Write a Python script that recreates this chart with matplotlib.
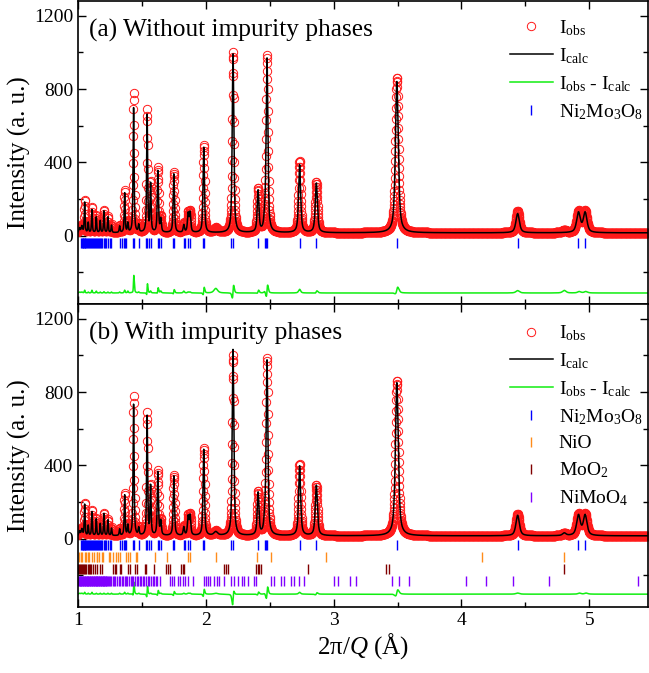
import numpy as np
import matplotlib
matplotlib.use("Agg")
import matplotlib.pyplot as plt
from matplotlib.ticker import MultipleLocator

plt.rcParams['font.family'] = ['Liberation Serif', 'DejaVu Serif']
plt.rcParams['mathtext.fontset'] = 'custom'
plt.rcParams['mathtext.rm'] = 'Liberation Serif'
plt.rcParams['mathtext.it'] = 'Liberation Serif:italic'
plt.rcParams['mathtext.bf'] = 'Liberation Serif:bold'

# ---------------- data ----------------
# Bragg peaks: position (2pi/Q, Angstrom), heights above background, widths
peak_pos = [1.012, 1.030, 1.052, 1.080, 1.109, 1.143, 1.174, 1.203, 1.234, 1.262,
            1.326, 1.365, 1.390, 1.435, 1.475, 1.541, 1.568, 1.625, 1.648, 1.750,
            1.828, 1.862, 1.877, 1.984, 2.078, 2.213, 2.409, 2.461, 2.479, 2.734,
            2.865, 3.495, 4.440, 4.805, 4.916, 4.968]
obs_pos = [1.012, 1.030, 1.052, 1.080, 1.109, 1.143, 1.174, 1.203, 1.234, 1.262,
           1.326, 1.365, 1.390, 1.4353, 1.475, 1.5413, 1.568, 1.6253, 1.648, 1.7503,
           1.828, 1.862, 1.877, 1.9844, 2.078, 2.2134, 2.4094, 2.461, 2.4794, 2.734,
           2.8653, 3.4954, 4.440, 4.805, 4.9164, 4.9684]
obs_hgt = [30, 40, 180, 60, 140, 95, 70, 125, 90, 45,
           40, 230, 60, 760, 45, 670, 270, 355, 80, 330,
           50, 105, 110, 480, 25, 985, 235, 60, 960, 390,
           278, 845, 118, 14, 115, 115]
calc_a_hgt = [25, 35, 165, 55, 125, 85, 65, 118, 85, 40,
              35, 215, 50, 680, 40, 640, 260, 335, 70, 320,
              40, 100, 105, 465, 0, 975, 225, 50, 945, 370,
              270, 825, 105, 0, 108, 108]
calc_b_hgt = [25, 35, 170, 55, 130, 90, 65, 120, 85, 40,
              35, 220, 55, 715, 40, 650, 265, 345, 75, 325,
              45, 100, 105, 470, 20, 1015, 230, 55, 950, 380,
              275, 835, 112, 14, 110, 110]
peak_wid = [0.012, 0.012, 0.0075, 0.0075, 0.0075, 0.0075, 0.0075, 0.0075, 0.0075, 0.0075,
            0.0085, 0.0085, 0.0085, 0.0095, 0.0095, 0.0095, 0.0095, 0.011, 0.011, 0.012,
            0.012, 0.013, 0.013, 0.013, 0.034, 0.015, 0.016, 0.016, 0.016, 0.019,
            0.020, 0.027, 0.032, 0.032, 0.034, 0.034]
background = 16

# reflection tick positions
ticks_ni2mo3o8 = [1.026, 1.031, 1.036, 1.043, 1.050, 1.054, 1.058, 1.066, 1.072, 1.080,
                  1.086, 1.092, 1.100, 1.109, 1.116, 1.125, 1.132, 1.141, 1.150, 1.158,
                  1.165, 1.175, 1.183, 1.190, 1.203, 1.212, 1.222, 1.234, 1.247, 1.262,
                  1.326, 1.341, 1.357, 1.365, 1.372, 1.430, 1.435, 1.477, 1.535, 1.541,
                  1.553, 1.568, 1.625, 1.630, 1.648, 1.745, 1.750, 1.828, 1.836, 1.862,
                  1.875, 1.979, 1.984, 2.200, 2.213, 2.409, 2.461, 2.474, 2.479, 2.734,
                  2.865, 3.495, 4.440, 4.916, 4.968]
ticks_nio = [1.008, 1.021, 1.029, 1.052, 1.063, 1.078, 1.089, 1.107, 1.125, 1.146,
             1.151, 1.167, 1.188, 1.198, 1.240, 1.250, 1.271, 1.300, 1.313, 1.328,
             1.378, 1.393, 1.406, 1.456, 1.464, 1.602, 1.693, 1.862, 1.880, 2.078,
             2.401, 2.507, 2.938, 4.162, 4.805]
ticks_moo2 = [1.003, 1.010, 1.017, 1.025, 1.033, 1.040, 1.048, 1.055, 1.065, 1.075,
              1.085, 1.095, 1.105, 1.115, 1.135, 1.151, 1.174, 1.188, 1.273, 1.286,
              1.300, 1.326, 1.339, 1.391, 1.404, 1.448, 1.464, 1.521, 1.534, 1.594,
              1.690, 1.703, 1.716, 1.807, 1.820, 1.833, 2.146, 2.159, 2.172, 2.393,
              2.406, 2.419, 2.432, 2.797, 3.409, 3.435, 4.800]
ticks_nimoo4 = [1.002, 1.007, 1.012, 1.017, 1.022, 1.027, 1.032, 1.037, 1.042, 1.047,
                1.052, 1.057, 1.062, 1.067, 1.072, 1.077, 1.082, 1.087, 1.092, 1.097,
                1.102, 1.107, 1.112, 1.117, 1.122, 1.127, 1.132, 1.137, 1.142, 1.147,
                1.152, 1.157, 1.162, 1.167, 1.172, 1.177, 1.182, 1.187, 1.192, 1.197,
                1.202, 1.207, 1.212, 1.217, 1.222, 1.228, 1.236, 1.244, 1.251, 1.262,
                1.270, 1.283, 1.292, 1.305, 1.318, 1.327, 1.341, 1.352, 1.365, 1.373,
                1.385, 1.398, 1.411, 1.420, 1.432, 1.445, 1.458, 1.470, 1.482, 1.495,
                1.508, 1.520, 1.533, 1.546, 1.559, 1.571, 1.584, 1.597, 1.610, 1.622,
                1.638, 1.716, 1.734, 1.755, 1.786, 1.802, 1.820, 1.839, 1.859, 1.898,
                1.984, 2.003, 2.016, 2.036, 2.068, 2.089, 2.107, 2.146, 2.198, 2.224,
                2.250, 2.281, 2.302, 2.328, 2.380, 2.393, 2.510, 2.536, 2.589, 2.615,
                2.667, 2.693, 2.732, 2.771, 3.000, 3.034, 3.125, 3.172, 3.459, 3.510,
                3.588, 4.036, 4.193, 4.406, 4.688, 5.383]

diff_offset_a = -312
diff_offset_b = -302
x_range = (1.0, 5.46)
y_range = (-372, 1280)


def profile(x, pos, hgt, wid, bg):
    y = np.full_like(x, float(bg))
    for p, h, w in zip(pos, hgt, wid):
        u = (x - p) / (w / 2.0)
        y += h * (0.65 / (1 + u ** 2) + 0.35 * np.exp(-np.log(2) * u ** 2))
    return y


x_obs = np.arange(1.0, 5.46, 0.0015)
x_fine = np.arange(1.0, 5.46, 0.0003)
y_obs = profile(x_obs, obs_pos, obs_hgt, peak_wid, background)
obs_fine = profile(x_fine, obs_pos, obs_hgt, peak_wid, background)
calc_a = profile(x_fine, peak_pos, calc_a_hgt, peak_wid, background)
calc_b = profile(x_fine, peak_pos, calc_b_hgt, peak_wid, background)

# ---------------- figure ----------------
W, H = 649, 673
fig = plt.figure(figsize=(W / 100, H / 100), dpi=100)


def rect(l, t, r, b):
    return [l / W, 1 - b / H, (r - l) / W, (b - t) / H]


ax1 = fig.add_axes(rect(78, 1, 648, 304))
ax2 = fig.add_axes(rect(78, 304, 648, 607))

red = '#ff1a1a'
green = '#11ee11'
blue = '#0000ff'
orange = '#ff8c1a'
maroon = '#800000'
purple = '#8000ff'

lab_obs = r'$\mathrm{I}_{\mathrm{obs}}$'
lab_calc = r'$\mathrm{I}_{\mathrm{calc}}$'
lab_diff = r'$\mathrm{I}_{\mathrm{obs}}$ - $\mathrm{I}_{\mathrm{calc}}$'

for ax, calc, off, title, phases, leg_y in [
        (ax1, calc_a, diff_offset_a, '(a) Without impurity phases',
         [('Ni$_2$Mo$_3$O$_8$', ticks_ni2mo3o8, blue, -38)], 0.943),
        (ax2, calc_b, diff_offset_b, '(b) With impurity phases',
         [('Ni$_2$Mo$_3$O$_8$', ticks_ni2mo3o8, blue, -33),
          ('NiO', ticks_nio, orange, -100),
          ('MoO$_2$', ticks_moo2, maroon, -163),
          ('NiMoO$_4$', ticks_nimoo4, purple, -231)], 0.936)]:
    h_obs, = ax.plot(x_obs, y_obs, 'o', ms=6.0, mfc='none', mec=red, mew=0.7,
                     label=lab_obs)
    h_calc, = ax.plot(x_fine, calc, '-', color='black', lw=1.1, label=lab_calc)
    h_diff, = ax.plot(x_fine, obs_fine - calc + off, '-', color=green, lw=1.1,
                      label=lab_diff)
    handles = [h_obs, h_calc, h_diff]
    for name, tk, col, yy in phases:
        h, = ax.plot(tk, np.full(len(tk), yy), '|', ms=7.5, mew=1.0, color=col,
                     label=name)
        handles.append(h)
    ax.set_xlim(*x_range)
    ax.set_ylim(*y_range)
    ax.xaxis.set_major_locator(MultipleLocator(1))
    ax.xaxis.set_minor_locator(MultipleLocator(0.5))
    ax.yaxis.set_major_locator(MultipleLocator(400))
    ax.yaxis.set_minor_locator(MultipleLocator(200))
    ax.tick_params(which='both', direction='in', top=True, right=True,
                   labelsize=14, width=1.0)
    ax.tick_params(which='major', length=6)
    ax.tick_params(which='minor', length=3.5)
    for s in ax.spines.values():
        s.set_linewidth(1.2)
    ax.set_ylabel('Intensity (a. u.)', fontsize=18, labelpad=2)
    ax.text(0.019, 0.904, title, transform=ax.transAxes, fontsize=18.3,
            va='center', ha='left')
    ax.legend(handles=handles, loc='upper left', bbox_to_anchor=(0.758, leg_y),
              frameon=False, fontsize=14, handlelength=2.2, handletextpad=0.3,
              labelspacing=0.42, borderaxespad=0, borderpad=0, numpoints=1)

ax1.tick_params(labelbottom=False)
ax2.set_xlabel(r'2π/$Q$ (Å)', fontsize=18, labelpad=2)

fig.savefig('out.png', dpi=100)
